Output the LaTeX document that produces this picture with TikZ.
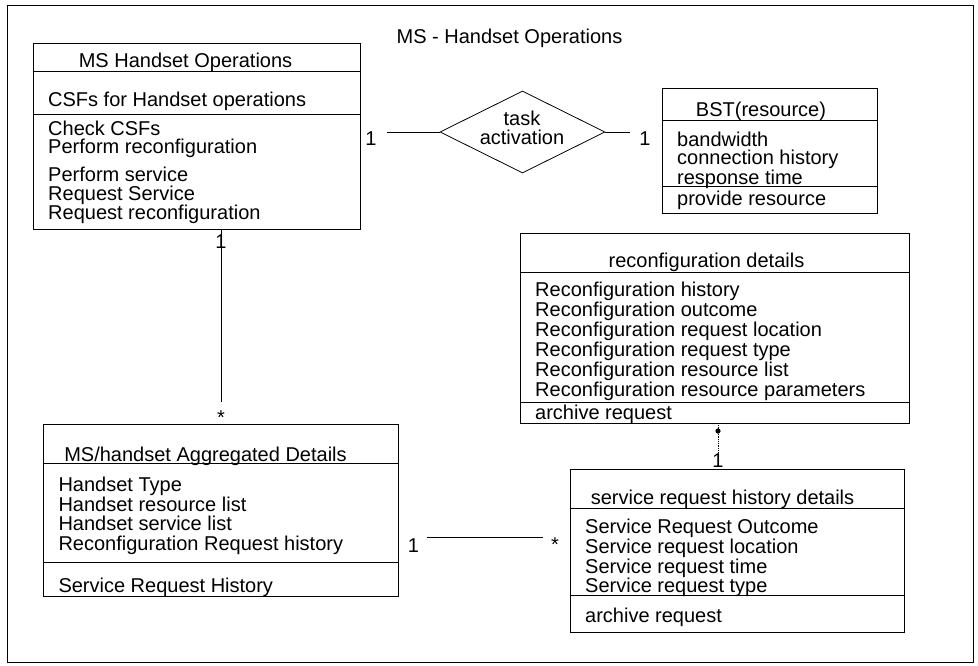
\documentclass[tikz,border=0pt]{standalone}
\usepackage{fontspec}
\setmainfont{Liberation Sans}
\usetikzlibrary{fit,shapes.geometric}
\tikzset{
  boxline/.style={draw, line width=0.9pt, inner sep=0pt},
  divline/.style={line width=0.9pt},
  conn/.style={line width=0.8pt},
  txt/.style={inner sep=0pt, anchor=base west, font=\fontsize{20}{20}\selectfont},
  ctxt/.style={txt, anchor=base},
}
\begin{document}
\begin{tikzpicture}[x=1pt,y=-1pt]
\useasboundingbox (0,0) rectangle (978,665);
% outer frame
\coordinate (F1) at (7,5); \coordinate (F2) at (973,662);
\node[boxline, line width=0.8pt, fit=(F1)(F2)] (frame) {};
\node[ctxt] (title) at (509.5,43) {MS - Handset Operations};

% Box A: MS Handset Operations
\coordinate (A1) at (33,43); \coordinate (A2) at (360,229);
\node[boxline, fit=(A1)(A2)] (A) {};
\draw[divline] (A.west |- 0,71) -- (A.east |- 0,71);
\draw[divline] (A.west |- 0,114) -- (A.east |- 0,114);
\node[ctxt] (a0) at (185.5,67) {MS Handset Operations};
\node[txt] (a1) at (48,106.7) {CSFs for Handset operations};
\node[txt] (a2) at (48,135) {Check CSFs};
\node[txt] (a3) at (48,153.5) {Perform reconfiguration};
\node[txt] (a4) at (48,181.7) {Perform service};
\node[txt] (a5) at (48,200.5) {Request Service};
\node[txt] (a6) at (48,219.5) {Request reconfiguration};

% diamond
\node[draw, diamond, line width=0.8pt, inner sep=0pt, minimum width=165pt, minimum height=82pt] (dia) at (522.5,132) {};
\node[ctxt] (dt1) at (522,125) {task};
\node[ctxt] (dt2) at (522,144.5) {activation};
\coordinate (cA) at (387,132);
\coordinate (cB) at (630,132);
\draw[conn] (cA) -- (dia.west);
\draw[conn] (dia.east) -- (cB);
\node[ctxt] (l1) at (371,145) {1};
\node[ctxt] (l2) at (645,145) {1};

% BST box
\coordinate (B1) at (662,88); \coordinate (B2) at (877,213);
\node[boxline, fit=(B1)(B2)] (B) {};
\draw[divline] (B.west |- 0,120) -- (B.east |- 0,120);
\draw[divline] (B.west |- 0,186) -- (B.east |- 0,186);
\node[ctxt] (b0) at (761,116.5) {BST(resource)};
\node[txt] (b1) at (677,146) {bandwidth};
\node[txt] (b2) at (677,164.5) {connection history};
\node[txt] (b3) at (677,184) {response time};
\node[txt] (b4) at (677,205) {provide resource};

% reconfiguration details
\coordinate (R1) at (520,233); \coordinate (R2) at (909,423);
\node[boxline, fit=(R1)(R2)] (R) {};
\draw[divline] (R.west |- 0,272) -- (R.east |- 0,272);
\draw[divline] (R.west |- 0,402) -- (R.east |- 0,402);
\node[ctxt] (r0) at (706.5,267) {reconfiguration details};
\node[txt] (r1) at (535,296.7) {Reconfiguration history};
\node[txt] (r2) at (535,316.7) {Reconfiguration outcome};
\node[txt] (r3) at (535,336.5) {Reconfiguration request location};
\node[txt] (r4) at (535,356.3) {Reconfiguration request type};
\node[txt] (r5) at (535,376.3) {Reconfiguration resource list};
\node[txt] (r6) at (535,396) {Reconfiguration resource parameters};
\node[txt] (r7) at (535,419.3) {archive request};

% service request history details
\coordinate (S1) at (570,469); \coordinate (S2) at (904,632);
\node[boxline, fit=(S1)(S2)] (S) {};
\draw[divline] (S.west |- 0,508.3) -- (S.east |- 0,508.3);
\draw[divline] (S.west |- 0,595.7) -- (S.east |- 0,595.7);
\node[ctxt] (s0) at (722.5,504) {service request history details};
\node[txt] (s1) at (585,533.3) {Service Request Outcome};
\node[txt] (s2) at (585,553.3) {Service request location};
\node[txt] (s3) at (585,573) {Service request time};
\node[txt] (s4) at (585,592.3) {Service request type};
\node[txt] (s5) at (585,622.3) {archive request};

% MS/handset Aggregated Details
\coordinate (D1) at (43,424); \coordinate (D2) at (398,596);
\node[boxline, fit=(D1)(D2)] (D) {};
\draw[divline] (D.west |- 0,463.3) -- (D.east |- 0,463.3);
\draw[divline] (D.west |- 0,562.3) -- (D.east |- 0,562.3);
\node[ctxt] (d0) at (205.5,461) {MS/handset Aggregated Details};
\node[txt] (d1) at (58.3,491.7) {Handset Type};
\node[txt] (d2) at (58.3,511) {Handset resource list};
\node[txt] (d3) at (58.3,530) {Handset service list};
\node[txt] (d4) at (58.3,550) {Reconfiguration Request history};
\node[txt] (d5) at (58.3,592.7) {Service Request History};

% A -- D
\coordinate (ad1) at (221,229);
\coordinate (ad2) at (221,402);
\draw[conn] (ad1) -- (ad2);
\node[ctxt] (la) at (221,248) {1};
\node[ctxt] (sa) at (221,424.5) {*};

% D -- S
\coordinate (ds1) at (427,537);
\coordinate (ds2) at (543,537);
\draw[conn] (ds1) -- (ds2);
\node[ctxt] (ld) at (413.5,552) {1};
\node[ctxt] (ss) at (555,551.5) {*};

% R -- S
\coordinate (rs1) at (718,423);
\coordinate (rs2) at (718,457);
\draw[conn, densely dotted] (rs1) -- (rs2);
\fill (718,431) circle (2.6);
\node[ctxt] (lrs) at (718,467) {1};
\end{tikzpicture}
\end{document}
